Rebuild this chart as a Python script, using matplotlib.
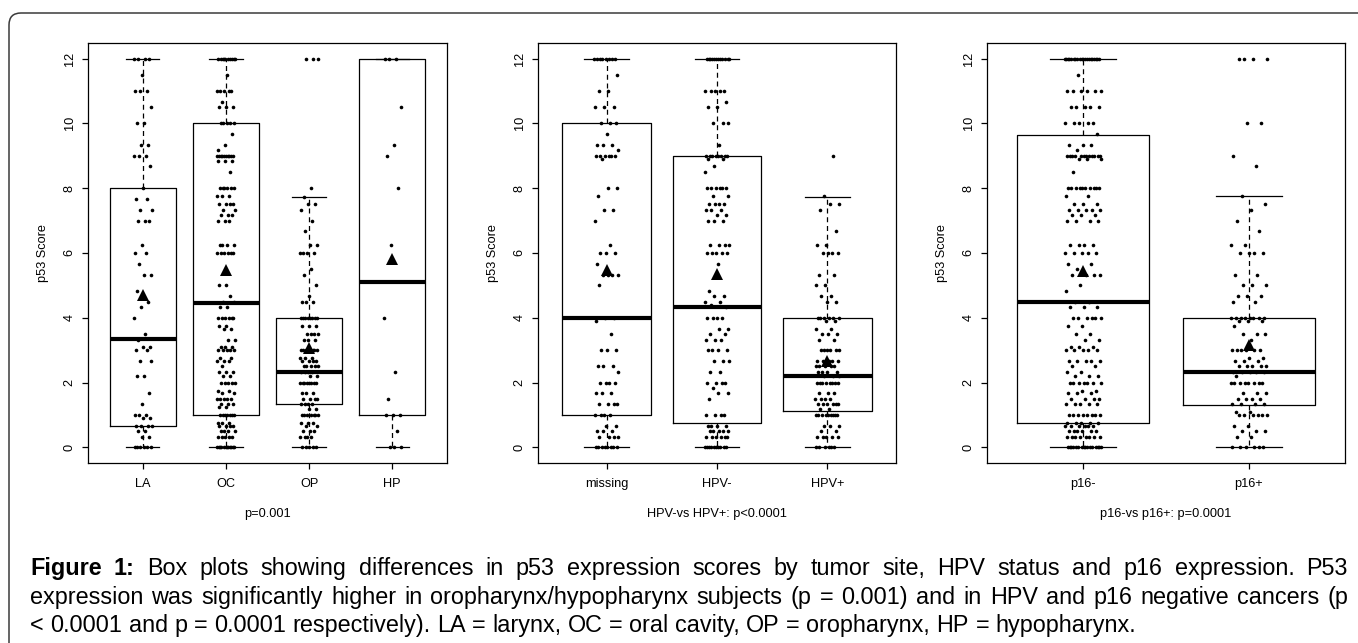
"""
Figure 1: p53 expression scores by tumor site, HPV status and p16 status.
Box plots with jittered points and mean triangles, plus justified caption.
"""

import matplotlib
matplotlib.use("Agg")
import matplotlib.pyplot as plt
from matplotlib.patches import FancyBboxPatch
import numpy as np

# ── Data ──────────────────────────────────────────────────────────────────────
# (score, count) pairs

LA = [(12, 4), (11.5, 1), (11, 3), (10.5, 1), (10, 2), (9.33, 2), (9, 3),
      (8.67, 1), (8, 1), (7.67, 2), (7.33, 2), (7, 3), (6.25, 1), (6, 2),
      (5.67, 1), (5.33, 2), (4.83, 1), (4.5, 1), (4.33, 1), (4, 1), (3.5, 1),
      (3.33, 1), (3.1, 2), (3, 2), (2.67, 2), (2.2, 2), (1.67, 1), (1.33, 1),
      (1, 3), (0.9, 2), (0.67, 4), (0.5, 2), (0.33, 2), (0, 6)]
OC = [(12, 10), (11.5, 1), (11, 5), (10.67, 1), (10.5, 3), (10, 5), (9.67, 1),
      (9.33, 1), (9.17, 1), (9, 10), (8.83, 3), (8.5, 1), (8, 6), (7.75, 3),
      (7.5, 4), (7.33, 2), (7.17, 3), (7, 3), (6.25, 4), (6, 6), (5, 2),
      (4.67, 1), (4.5, 2), (4.33, 2), (4, 6), (3.75, 2), (3.67, 2), (3.33, 2),
      (3.1, 3), (3, 5), (2.75, 2), (2.67, 3), (2.5, 1), (2.33, 3), (2.2, 2),
      (2, 5), (1.75, 2), (1.67, 2), (1.5, 5), (1.33, 3), (1.25, 2), (1, 7),
      (0.75, 3), (0.67, 4), (0.5, 4), (0.33, 5), (0, 12)]
OP = [(12, 3), (8, 1), (7.72, 1), (7.5, 2), (7.33, 1), (7, 1), (6.67, 1),
      (6.25, 2), (6, 4), (5.5, 1), (5.33, 1), (5, 1), (4.67, 1), (4.5, 3),
      (4, 8), (3.75, 3), (3.5, 4), (3.33, 3), (3, 8), (2.75, 3), (2.67, 4),
      (2.5, 5), (2.33, 4), (2.2, 2), (2, 8), (1.67, 3), (1.5, 4), (1.33, 4),
      (1.2, 2), (1, 7), (0.75, 3), (0.67, 2), (0.5, 3), (0.33, 4), (0, 5)]
HP = [(12, 3), (10.5, 1), (9.33, 1), (9, 1), (8, 1), (6.25, 1), (4, 1),
      (2.33, 1), (1.5, 1), (1, 3), (0.5, 1), (0, 3)]

MISSING = [(12, 8), (11.5, 1), (11, 2), (10.5, 3), (10, 3), (9.67, 1),
           (9.33, 3), (9.17, 1), (9, 6), (8.9, 1), (8, 2), (7.75, 1),
           (7.33, 2), (7, 1), (6.25, 1), (6, 3), (5.67, 1), (5.33, 4), (5, 1),
           (4, 2), (3.9, 1), (3.5, 1), (3, 3), (2.5, 3), (2.33, 1), (2, 4),
           (1.67, 3), (1.33, 4), (1, 4), (0.67, 2), (0.5, 3), (0.33, 4), (0, 8)]
HPV_NEG = [(12, 12), (11, 5), (10.67, 1), (10.5, 2), (10, 3), (9.33, 1),
           (9, 8), (8.9, 2), (8.67, 1), (8.5, 1), (8, 6), (7.75, 2), (7.5, 4),
           (7.33, 3), (7.17, 2), (7, 3), (6.25, 4), (6, 5), (5.67, 1),
           (4.83, 1), (4.67, 2), (4.5, 2), (4.4, 1), (4.33, 1), (4, 4),
           (3.67, 2), (3.5, 2), (3.33, 3), (3, 4), (2.67, 3), (2.33, 2),
           (2, 4), (1.83, 1), (1.67, 2), (1.5, 1), (1, 4), (0.67, 4), (0.5, 5),
           (0.33, 6), (0, 10)]
HPV_POS = [(9, 1), (7.75, 1), (7.5, 2), (7.33, 1), (6.67, 1), (6.25, 2),
           (6, 4), (5.33, 2), (5, 2), (4.67, 2), (4.5, 2), (4, 6), (3.9, 2),
           (3.67, 2), (3.5, 3), (3.33, 2), (3, 6), (2.67, 5), (2.5, 5),
           (2.33, 4), (2.2, 3), (2, 8), (1.67, 3), (1.5, 4), (1.33, 6),
           (1.2, 2), (1, 9), (0.67, 3), (0.5, 2), (0.33, 5), (0, 6)]

P16_NEG = [(12, 20), (11.5, 1), (11, 6), (10.5, 5), (10, 5), (9.67, 1),
           (9.33, 3), (9.17, 1), (9, 12), (8.9, 3), (8.5, 1), (8, 10),
           (7.75, 2), (7.5, 3), (7.33, 5), (7.17, 3), (7, 4), (6.25, 4),
           (6, 5), (5.67, 2), (5.5, 1), (5.33, 4), (5, 1), (4.83, 1), (4.5, 2),
           (4.33, 3), (4, 6), (3.75, 2), (3.5, 2), (3.33, 2), (3.1, 3), (3, 5),
           (2.67, 5), (2.5, 2), (2.33, 2), (2.2, 3), (2, 7), (1.75, 2),
           (1.67, 3), (1.5, 4), (1.33, 5), (1, 8), (0.75, 5), (0.67, 6),
           (0.5, 6), (0.33, 8), (0, 16)]
P16_POS = [(12, 4), (10, 2), (9, 1), (8.7, 1), (7.75, 1), (7.5, 1), (7.33, 1),
           (7, 1), (6.67, 1), (6.25, 2), (6, 4), (5.33, 2), (5, 3), (4.67, 3),
           (4.5, 2), (4, 8), (3.9, 3), (3.75, 1), (3.5, 3), (3.33, 1), (3, 6),
           (2.75, 2), (2.67, 3), (2.5, 5), (2.33, 5), (2.2, 1), (2, 8),
           (1.67, 3), (1.5, 4), (1.33, 4), (1.1, 2), (1, 6), (0.67, 2),
           (0.5, 3), (0.33, 2), (0, 6)]

# box summaries (as drawn)
SITE_LABELS = ["LA", "OC", "OP", "HP"]
SITE_Q1 = [0.67, 1.0, 1.33, 1.0]
SITE_MED = [3.34, 4.46, 2.33, 5.11]
SITE_Q3 = [8.0, 10.0, 4.0, 12.0]
SITE_WLO = [0, 0, 0, 0]
SITE_WHI = [12, 12, 7.72, 12]
SITE_MEAN = [4.70, 5.47, 3.07, 5.83]

HPV_LABELS = ["missing", "HPV-", "HPV+"]
HPV_Q1 = [1.0, 0.75, 1.14]
HPV_MED = [4.0, 4.34, 2.2]
HPV_Q3 = [10.0, 9.0, 4.0]
HPV_WLO = [0, 0, 0]
HPV_WHI = [12, 12, 7.74]
HPV_MEAN = [5.47, 5.35, 2.67]

P16_LABELS = ["p16-", "p16+"]
P16_Q1 = [0.75, 1.32]
P16_MED = [4.49, 2.33]
P16_Q3 = [9.64, 4.0]
P16_WLO = [0, 0]
P16_WHI = [12, 7.75]
P16_MEAN = [5.45, 3.15]

PANELS = [
    (SITE_LABELS, [LA, OC, OP, HP], SITE_Q1, SITE_MED, SITE_Q3, SITE_WLO,
     SITE_WHI, SITE_MEAN, "p=0.001"),
    (HPV_LABELS, [MISSING, HPV_NEG, HPV_POS], HPV_Q1, HPV_MED, HPV_Q3,
     HPV_WLO, HPV_WHI, HPV_MEAN, "HPV-vs HPV+: p<0.0001"),
    (P16_LABELS, [P16_NEG, P16_POS], P16_Q1, P16_MED, P16_Q3, P16_WLO,
     P16_WHI, P16_MEAN, "p16-vs p16+: p=0.0001"),
]

CAPTION = [
    "Figure 1: Box plots showing differences in p53 expression scores by "
    "tumor site, HPV status and p16 expression. P53",
    "expression was significantly higher in oropharynx/hypopharynx subjects "
    "(p = 0.001) and in HPV and p16 negative cancers (p",
    "< 0.0001 and p = 0.0001 respectively). LA = larynx, OC = oral cavity, "
    "OP = oropharynx, HP = hypopharynx.",
]

# ── Plot ──────────────────────────────────────────────────────────────────────

plt.rcParams.update({
    "font.family": "Liberation Sans",
    "font.size": 9.2,
    "axes.linewidth": 0.9,
    "xtick.major.width": 0.9,
    "ytick.major.width": 0.9,
    "xtick.major.size": 4.3,
    "ytick.major.size": 4.3,
})

W, H = 1358, 643
fig = plt.figure(figsize=(W / 100, H / 100), dpi=100)

# rounded figure frame
frame = FancyBboxPatch((0.09, -0.4), 14.0, 6.43 - 0.13 + 0.4,
                       boxstyle="round,pad=0,rounding_size=0.12",
                       transform=fig.dpi_scale_trans, fill=False,
                       edgecolor="#3a3a3a", linewidth=1.1, clip_on=False)
fig.patches.append(frame)

axes_px = [(88, 447), (538, 896), (987, 1345)]
top_px, bot_px = 43, 463

for (left, right), panel in zip(axes_px, PANELS):
    labels, groups, q1, med, q3, wlo, whi, mean, xlab = panel
    ax = fig.add_axes([left / W, 1 - bot_px / H, (right - left) / W,
                       (bot_px - top_px) / H])
    n = len(labels)
    pos = np.arange(1, n + 1)

    stats = [dict(q1=q1[i], med=med[i], q3=q3[i], whislo=wlo[i],
                  whishi=whi[i], fliers=[]) for i in range(n)]
    ax.bxp(stats, positions=pos, widths=0.8, showfliers=False,
           boxprops=dict(color="black", linewidth=0.9),
           medianprops=dict(color="black", linewidth=3.0, solid_capstyle="butt"),
           whiskerprops=dict(color="black", linewidth=0.9,
                             linestyle=(0, (4, 3))),
           capprops=dict(color="black", linewidth=0.9), capwidths=0.4)

    # jittered points (deterministic low-discrepancy spread)
    for gi, grp in enumerate(groups):
        ys = np.concatenate([[v] * c for v, c in grp])
        k = np.arange(len(ys))
        off = ((k * 0.6180339887 + 0.37 * gi) % 1.0 - 0.5) * 0.22
        ax.plot(pos[gi] + off, ys, "o", color="black", markersize=2.6,
                markeredgewidth=0, zorder=3)

    ax.plot(pos, mean, "^", color="black", markersize=9,
            markeredgewidth=0, zorder=4)

    ext = n * 0.04
    ax.set_xlim(0.5 - ext, n + 0.5 + ext)
    ax.set_ylim(-0.48, 12.48)
    ax.set_xticks(pos)
    ax.set_xticklabels(labels)
    ax.set_yticks(range(0, 13, 2))
    ax.tick_params(axis="y", labelrotation=90, pad=4.5)
    ax.tick_params(axis="x", pad=6.5)
    for t in ax.get_yticklabels():
        t.set_va("center")
    ax.set_ylabel("p53 Score", labelpad=11)
    ax.set_xlabel(xlab, labelpad=13)

# ── Justified caption ─────────────────────────────────────────────────────────

fig.canvas.draw()
renderer = fig.canvas.get_renderer()
CAP_SIZE = 16.8
x0, x1 = 30, 1348
baselines = [575, 604, 632]


def word_width(word, weight):
    t = fig.text(0, 0, word, fontsize=CAP_SIZE, fontweight=weight)
    w = t.get_window_extent(renderer).width
    t.remove()
    return w


space_w = word_width("a b", "normal") - word_width("ab", "normal")
bold_count = 2
for li, line in enumerate(CAPTION):
    words = line.split(" ")
    weights = ["bold" if (li == 0 and wi < bold_count) else "normal"
               for wi in range(len(words))]
    widths = [word_width(w, wt) for w, wt in zip(words, weights)]
    if li < len(CAPTION) - 1:
        gap = (x1 - x0 - sum(widths)) / (len(words) - 1)
    else:
        gap = space_w
    x = x0
    for w, wt, ww in zip(words, weights, widths):
        fig.text(x / W, 1 - baselines[li] / H, w, fontsize=CAP_SIZE,
                 fontweight=wt, va="baseline", ha="left")
        x += ww + gap

fig.savefig("out.png", dpi=100)
